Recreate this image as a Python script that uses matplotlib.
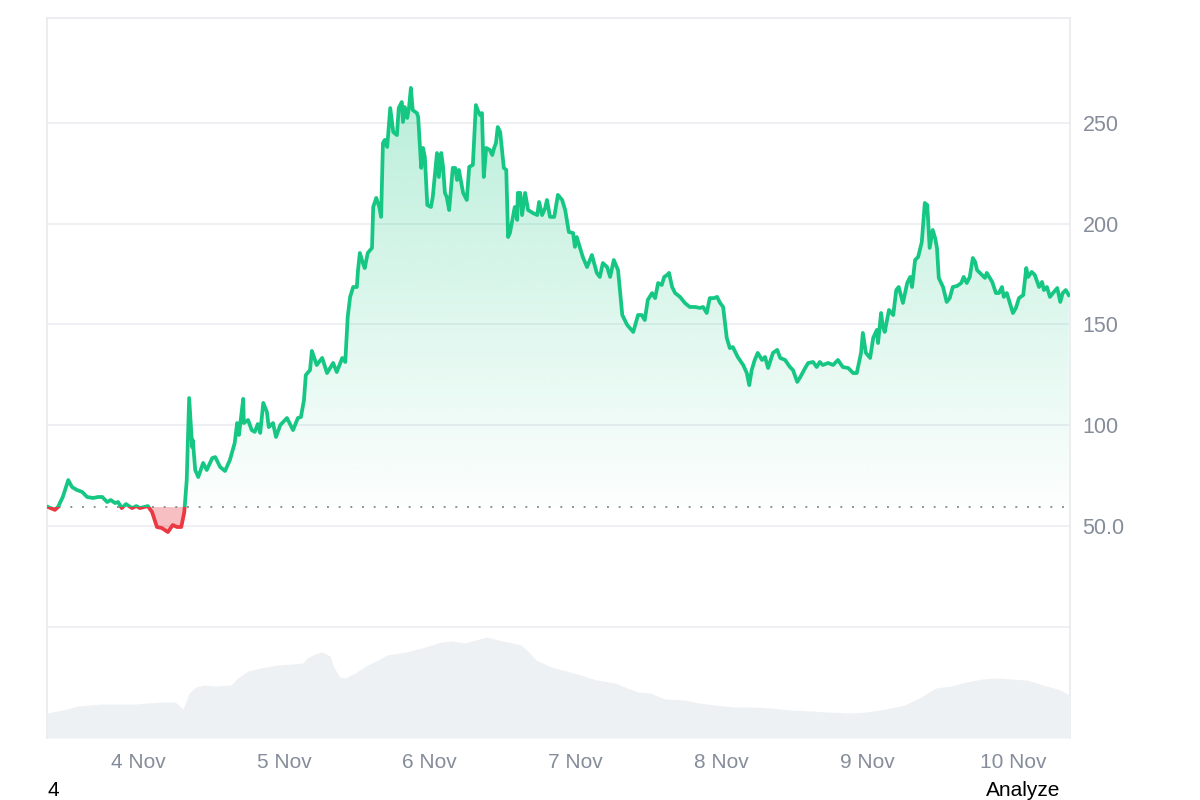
import matplotlib
matplotlib.use("Agg")
import matplotlib.dates as mdates
import matplotlib.pyplot as plt
import numpy as np
import pandas as pd
from matplotlib.patches import Rectangle
from matplotlib.ticker import FuncFormatter

plt.rcParams["font.family"] = ["Liberation Sans", "DejaVu Sans"]

# 7 day window, hours counted from the first sample
start = pd.Timestamp("2024-11-03 09:00")

price_hours = [
    0.2, 1.3, 1.8, 2.6, 3.5, 4.1, 4.9, 5.8, 6.6, 7.6, 8.4, 9.1, 9.9, 10.5, 11.2, 11.7,
    12.3, 13.0, 14.0, 14.7, 15.3, 16.6, 17.3, 18.1, 18.9, 19.9, 20.7, 21.4, 22.1, 22.6,
    23.0, 23.4, 23.9, 24.0, 24.4, 24.9, 25.7, 26.3, 27.2, 27.7, 28.5, 29.3, 30.1, 30.9,
    31.3, 31.6, 32.3, 32.4, 33.1, 33.7, 34.2, 34.7, 35.1, 35.6, 36.2, 36.5, 37.2, 37.7,
    38.4, 39.5, 40.5, 41.3, 41.8, 42.3, 42.6, 43.3, 43.6, 44.4, 45.3, 46.1, 47.1, 47.7,
    48.6, 49.1, 49.4, 49.5, 49.9, 50.4, 51.0, 51.2, 51.5, 52.0, 52.3, 52.8, 53.5, 53.7,
    54.2, 54.7, 55.0, 55.3, 55.6, 56.0, 56.5, 57.0, 57.6, 57.9, 58.4, 58.6, 58.9, 59.3,
    59.6, 59.9, 60.2, 60.9, 61.1, 61.4, 61.6, 61.9, 62.2, 62.6, 63.2, 63.5, 64.2, 64.5,
    64.9, 65.2, 65.5, 65.8, 66.2, 66.8, 67.2, 67.5, 67.8, 68.5, 69.1, 69.5, 70.1, 70.6,
    70.9, 71.3, 71.6, 71.9, 72.3, 72.9, 73.3, 73.6, 73.9, 74.2, 74.6, 74.9, 75.2, 75.6,
    75.9, 76.2, 76.7, 77.0, 77.4, 77.5, 77.9, 78.2, 78.7, 79.2, 80.0, 80.7, 81.0, 81.5,
    82.0, 82.3, 82.8, 83.5, 84.1, 84.8, 85.3, 85.9, 86.6, 86.9, 87.2, 87.7, 88.2, 88.9,
    89.7, 90.5, 91.0, 91.5, 92.2, 92.7, 93.3, 94.0, 94.7, 95.5, 96.5, 97.3, 97.9, 98.4,
    98.9, 99.6, 100.1, 100.6, 101.2, 101.6, 102.1, 102.4, 102.9, 103.4, 104.2, 105.0,
    105.8, 106.7, 107.5, 108.0, 108.6, 109.1, 109.8, 110.3, 110.8, 111.3, 111.9, 112.4,
    112.9, 113.7, 114.6, 115.2, 115.6, 116.0, 116.5, 117.0, 117.7, 118.2, 118.7, 119.5,
    120.2, 120.7, 121.5, 122.3, 122.8, 123.5, 124.0, 124.8, 125.3, 126.1, 126.7, 127.2,
    127.7, 128.6, 129.4, 130.2, 131.0, 131.9, 132.7, 133.3, 134.0, 134.3, 134.8, 135.5,
    136.0, 136.6, 136.8, 137.3, 137.6, 137.9, 138.6, 139.3, 139.8, 140.2, 140.9, 141.6,
    142.1, 142.4, 142.9, 143.4, 144.0, 144.5, 144.9, 145.3, 145.8, 146.2, 146.5, 146.8,
    147.5, 148.1, 148.6, 149.1, 149.8, 150.5, 150.9, 151.4, 151.9, 152.4, 152.8, 153.1,
    153.9, 154.4, 154.7, 155.6, 156.2, 156.7, 157.2, 157.5, 158.0, 158.5, 159.0, 159.5,
    160.0, 160.7, 161.2, 161.5, 162.1, 162.6, 163.3, 163.8, 164.1, 164.6, 165.1, 165.6,
    166.3, 166.8, 167.2, 167.7, 168.2,
]
prices = [
    59.4, 58.0, 59.4, 64.4, 72.8, 69.4, 67.9, 66.9, 64.4, 63.9, 64.4, 64.4, 61.9, 62.9, 61.4, 61.9,
    58.9, 60.9, 58.9, 59.9, 58.9, 59.9, 56.9, 49.5, 49.0, 47.0, 50.5, 49.5, 49.5, 56.9,
    72.8, 113.5, 89.2, 92.6, 77.8, 74.3, 81.3, 77.8, 83.7, 84.2, 79.3, 77.3, 82.7, 91.2,
    101.1, 95.2, 113.1, 101.1, 102.6, 97.6, 96.7, 100.6, 96.2, 111.1, 106.6, 99.1, 101.1, 94.2,
    100.1, 103.6, 97.6, 103.6, 104.1, 112.5, 124.9, 127.4, 136.9, 129.9, 133.4, 125.9, 130.9, 126.4,
    133.4, 131.4, 148.8, 153.8, 163.7, 168.6, 168.6, 177.1, 185.5, 180.5, 178.0, 185.5, 188.0, 208.3,
    212.8, 208.3, 203.4, 240.0, 241.6, 238.1, 257.4, 245.5, 244.0, 257.4, 260.4, 250.5, 257.9, 252.5,
    257.9, 267.4, 256.4, 254.9, 252.9, 238.1, 227.7, 237.6, 233.1, 209.3, 208.3, 213.3, 235.1, 223.2,
    235.1, 228.2, 215.3, 213.3, 206.8, 227.7, 227.7, 221.7, 226.7, 215.3, 211.8, 228.2, 229.2, 258.9,
    256.4, 253.9, 254.9, 223.2, 237.6, 236.6, 234.1, 237.6, 240.0, 248.0, 245.5, 236.6, 227.7, 226.7,
    193.4, 195.4, 203.4, 208.3, 201.9, 215.3, 215.3, 204.3, 215.3, 206.8, 205.3, 204.3, 210.8, 204.3,
    207.8, 211.8, 203.4, 203.4, 214.3, 211.8, 206.8, 195.9, 195.4, 188.5, 193.4, 188.5, 183.5, 178.5,
    184.5, 175.6, 173.6, 180.5, 178.5, 173.6, 182.0, 177.0, 154.7, 149.8, 146.3, 154.7, 154.7, 152.2,
    162.2, 165.6, 163.1, 170.6, 169.6, 173.6, 174.6, 175.6, 168.6, 165.6, 163.7, 160.7,
    158.7, 158.7, 158.2, 158.7, 155.7, 163.1, 163.1, 163.7, 160.7, 158.7, 143.3, 138.3,
    138.8, 133.9, 129.9, 125.9, 119.9, 127.4, 132.4, 135.9, 132.4, 133.9, 128.4, 135.9,
    137.4, 133.4, 132.4, 128.9, 127.4, 121.5, 123.9, 128.4, 130.9, 131.4, 128.9, 131.4,
    129.9, 130.9, 129.9, 132.4, 128.9, 128.4, 125.9, 125.9, 135.9, 145.8, 135.9, 133.4,
    143.3, 147.3, 140.8, 155.7, 148.8, 146.3, 157.2, 154.7, 167.1, 168.6, 160.7, 170.6,
    173.6, 168.6, 182.0, 183.5, 190.9, 210.3, 209.3, 188.0, 196.9, 192.9, 188.0, 173.1,
    168.6, 161.2, 163.1, 168.6, 169.1, 170.6, 173.6, 170.6, 173.6, 183.0, 181.0, 177.0,
    174.6, 173.1, 175.6, 171.1, 165.6, 165.6, 168.6, 163.7, 165.6, 160.7, 155.7, 158.2,
    163.1, 164.6, 178.0, 173.6, 176.1, 174.6, 168.6, 171.1, 167.1, 168.6, 163.7, 165.6,
    168.1, 161.2, 165.6, 167.1, 164.6,
]

volume_hours = [
    0.0, 2.6, 5.1, 8.9, 14.5, 18.9, 21.1, 22.4, 23.4, 24.5, 25.8, 27.8, 30.3, 31.4, 33.1,
    35.2, 37.9, 40.3, 42.1, 42.8, 44.1, 45.3, 46.6, 47.2, 48.2, 49.1, 51.0, 52.8, 54.2,
    56.0, 59.1, 61.7, 64.9, 66.7, 68.6, 70.5, 72.4, 74.2, 76.7, 78.0, 79.3, 80.5, 83.0,
    86.7, 90.5, 93.5, 95.5, 97.3, 99.3, 101.7, 104.9, 107.3, 110.0, 113.1, 116.2, 119.3,
    122.5, 125.6, 128.7, 131.9, 135.0, 138.1, 141.2, 143.9, 146.3, 148.8, 151.3, 153.9,
    156.4, 158.8, 161.3, 163.9, 166.4, 168.4,
]
volumes = [  # $M, 24h rolling
    12.5, 14.0, 16.0, 17.0, 17.0, 18.0, 18.0, 14.5, 22.5, 25.5, 26.5, 26.0, 26.5, 30.0, 33.5,
    35.0, 36.5, 37.0, 37.5, 40.0, 42.0, 43.0, 41.0, 35.5, 30.5, 30.0, 33.0, 36.5, 38.5,
    41.5, 43.0, 45.0, 48.0, 48.5, 47.5, 49.0, 50.5, 49.0, 47.5, 46.5, 43.0, 39.0, 35.5,
    32.5, 29.0, 27.5, 25.0, 23.0, 22.5, 19.5, 19.0, 17.5, 16.5, 15.5, 15.5, 15.0,
    14.0, 13.5, 13.0, 12.5, 13.0, 14.5, 16.5, 20.5, 25.0, 26.0, 28.0, 29.5,
    30.0, 29.5, 29.0, 26.5, 24.5, 21.5,
]

ytick_values = [0, 50, 100, 150, 200, 250]
ytick_labels = ["", "50.0", "100", "150", "200", "250"]

GREEN = "#16c784"
RED = "#ea3943"
TICK_GREY = "#858d9a"


def to_num(hours):
    t = start + pd.to_timedelta(hours, unit="h")
    return mdates.date2num(t.to_pydatetime())


def main():
    x = to_num(price_hours)
    p = np.array(prices)
    xv = to_num(volume_hours)
    base = prices[0]

    fig = plt.figure(figsize=(12, 8), dpi=100)
    ax = fig.add_axes([47 / 1200, 62 / 800, 1023 / 1200, 720 / 800])

    x0 = to_num([0.0])[0]
    x1 = to_num([168.4])[0]
    ax.set_xlim(x0, x1)
    ax.set_ylim(-55.2, 302.1)

    # volume on its own scale at the bottom
    axv = ax.twinx()
    axv.fill_between(xv, volumes, 0, color="#eef1f4", lw=0)
    axv.set_ylim(0, 360)
    axv.set_yticks([])
    for s in axv.spines.values():
        s.set_visible(False)

    # gradient under the green part
    poly = ax.fill_between(x, p, base, facecolor="none", lw=0)
    top = p.max()
    n = 256
    grad = np.zeros((n, 1, 4))
    grad[:, 0, 0:3] = matplotlib.colors.to_rgb(GREEN)
    grad[:, 0, 3] = np.linspace(0.30, 0.01, n)
    im = ax.imshow(grad, extent=[x0, x1, base, top], aspect="auto",
                   origin="upper", zorder=1, interpolation="bilinear")
    im.set_clip_path(poly.get_paths()[0], ax.transData)

    ax.fill_between(x, p, base, where=p < base, interpolate=True,
                    color=RED, alpha=0.32, lw=0, zorder=1)

    # line coloured by side of the start price
    above = Rectangle((x0, base), x1 - x0, 1000, transform=ax.transData)
    below = Rectangle((x0, base - 1000), x1 - x0, 1000, transform=ax.transData)
    lg, = ax.plot(x, p, color=GREEN, lw=2.7, zorder=3, solid_joinstyle="round")
    lg.set_clip_path(above)
    lr, = ax.plot(x, p, color=RED, lw=2.7, zorder=3, solid_joinstyle="round")
    lr.set_clip_path(below)

    ax.axhline(base, color="#8e9398", lw=1.4, ls=(0, (1, 5)), zorder=2)

    ax.set_yticks(ytick_values)
    ax.set_yticklabels(ytick_labels)
    ax.yaxis.tick_right()
    ax.grid(axis="y", color="#eceef1", lw=1.2, zorder=0)
    ax.set_axisbelow(True)

    ax.xaxis.set_major_locator(mdates.DayLocator())
    ax.xaxis.set_major_formatter(FuncFormatter(
        lambda v, pos: "{} Nov".format(mdates.num2date(v).day)))
    ax.tick_params(axis="x", length=0, pad=11, labelsize=15, labelcolor=TICK_GREY)
    ax.tick_params(axis="y", length=0, pad=9, labelsize=15.5, labelcolor=TICK_GREY)

    for side in ["top", "left", "right"]:
        ax.spines[side].set_color("#e8eaed")
        ax.spines[side].set_linewidth(1.2)
    ax.spines["bottom"].set_visible(False)

    fig.text(48 / 1200, 0, "4", ha="left", va="bottom", fontsize=15, color="black")
    fig.text(1060 / 1200, 0, "Analyze", ha="right", va="bottom", fontsize=15, color="black")

    fig.savefig("out.png", dpi=100)


if __name__ == '__main__':
    main()
